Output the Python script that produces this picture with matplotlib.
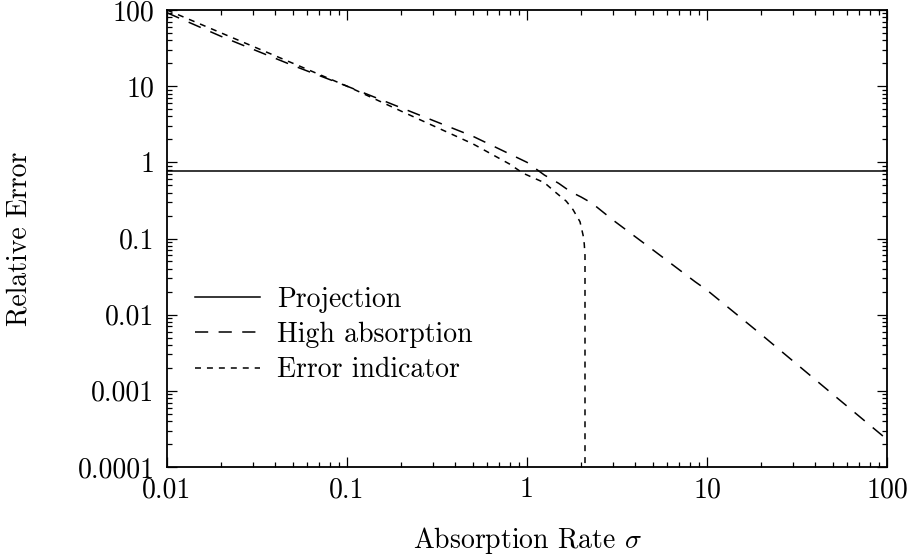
import matplotlib
matplotlib.use("Agg")
import matplotlib.pyplot as plt
from matplotlib.ticker import FixedLocator, FixedFormatter, LogLocator, NullFormatter

plt.rcParams['font.family'] = ['cmr10', 'DejaVu Serif']
plt.rcParams['mathtext.fontset'] = 'cm'
plt.rcParams['axes.formatter.use_mathtext'] = True
plt.rcParams['lines.scale_dashes'] = False

# Relative error against absorption rate sigma
sigma_proj = [0.01, 100]
err_proj = [0.78, 0.78]

sigma_high = [0.01, 0.02, 0.05, 0.1, 0.2, 0.5, 1.0, 1.25, 1.5, 1.75, 2.0, 2.3, 3.0, 5.0, 8.6, 10, 20, 50, 100]
err_high = [92, 45, 18.7, 10, 5.2, 2.2, 1.0, 0.68, 0.53, 0.41, 0.35, 0.29, 0.175, 0.071, 0.027, 0.021, 0.0055, 0.0009, 0.00023]

sigma_ind = [0.01, 0.02, 0.05, 0.1, 0.2, 0.5, 0.8, 0.95, 1.25, 1.43, 1.65, 1.8, 1.97, 2.05, 2.08, 2.1, 2.1]
err_ind = [100, 50, 20, 10, 4.7, 1.75, 0.95, 0.72, 0.54, 0.41, 0.31, 0.24, 0.166, 0.11, 0.085, 0.06, 1e-7]

x_ticks = [0.01, 0.1, 1, 10, 100]
x_labels = ["0.01", "0.1", "1", "10", "100"]
y_ticks = [0.0001, 0.001, 0.01, 0.1, 1, 10, 100]
y_labels = ["0.0001", "0.001", "0.01", "0.1", "1", "10", "100"]

fs = 20

fig = plt.figure(figsize=(9.13, 5.58), dpi=100)
ax = fig.add_axes([167 / 913, 1 - 467 / 558, 720 / 913, 457 / 558])

lw = 1.1
ax.plot(sigma_proj, err_proj, color='black', lw=lw, linestyle='-', label='Projection')
ax.plot(sigma_high, err_high, color='black', lw=lw, linestyle=(0, (9.5, 7.5)), label='High absorption')
ax.plot(sigma_ind, err_ind, color='black', lw=lw, linestyle=(0, (4.3, 4.3)), label='Error indicator')

ax.set_xscale('log')
ax.set_yscale('log')
ax.set_xlim(0.01, 100)
ax.set_ylim(0.0001, 100)

ax.xaxis.set_major_locator(FixedLocator(x_ticks))
ax.xaxis.set_major_formatter(FixedFormatter(x_labels))
ax.yaxis.set_major_locator(FixedLocator(y_ticks))
ax.yaxis.set_major_formatter(FixedFormatter(y_labels))
ax.xaxis.set_minor_locator(LogLocator(base=10, subs=range(2, 10), numticks=20))
ax.yaxis.set_minor_locator(LogLocator(base=10, subs=range(2, 10), numticks=20))
ax.xaxis.set_minor_formatter(NullFormatter())
ax.yaxis.set_minor_formatter(NullFormatter())

ax.tick_params(which='both', direction='in', top=True, right=True, width=0.9, labelsize=fs)
ax.tick_params(which='major', length=7)
ax.tick_params(which='minor', length=3.6)
ax.tick_params(axis='x', which='major', pad=7)
ax.tick_params(axis='y', which='major', pad=9)
for s in ax.spines.values():
    s.set_linewidth(1.3)

ax.set_xlabel(r"Absorption Rate $\sigma$", fontsize=fs, labelpad=16)
ax.set_ylabel("Relative Error", fontsize=fs, labelpad=32)

ax.legend(loc='upper left', bbox_to_anchor=(0.039, 0.395), frameon=False, fontsize=fs,
          handlelength=2.35, handletextpad=0.6, labelspacing=0.32, borderpad=0,
          borderaxespad=0)

fig.savefig("out.png", dpi=100)
